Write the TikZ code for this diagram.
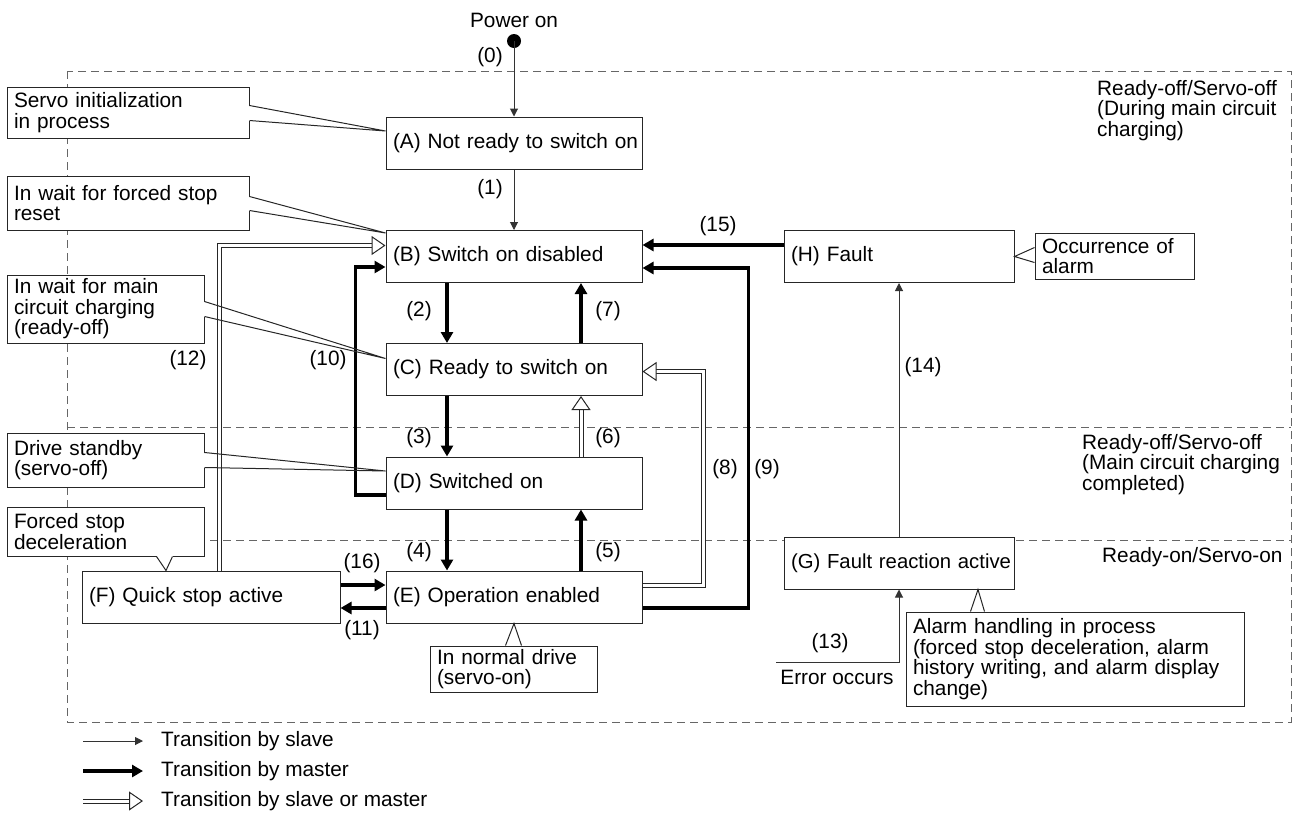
\documentclass[tikz,border=0pt]{standalone}
\usepackage{fontspec}
\setmainfont{Liberation Sans}
\usetikzlibrary{arrows.meta,calc}
\newcommand\wedgeto[3]{%
  \draw[white,line width=1.8pt] #1 -- #2;
  \draw[wedge] #1 -- #3 -- #2;}
\begin{document}
\begin{tikzpicture}[x=1pt,y=-1pt,
  every node/.style={font=\fontsize{20.8}{20.5}\selectfont, inner sep=0pt},
  state/.style={draw=black!85, line width=1pt, fill=white, minimum height=52pt, text width=242pt, inner xsep=7pt, align=left,
    execute at begin node={\hyphenpenalty=10000\exhyphenpenalty=10000\hbadness=10000\hfuzz=20pt}},
  note/.style={draw=black!85, line width=1pt, fill=white, inner xsep=7pt, align=left},
  wedge/.style={draw=black!85, line width=1pt, line join=miter},
  slave/.style={draw=black!80, line width=1pt, -{Triangle[length=8pt,width=8pt]}},
  master/.style={draw=black, line width=3.5pt, -{Triangle[length=11pt,width=12pt]}},
  both/.style={draw=black!85, line width=1pt, double=white, double distance=3pt, -{Triangle[open,length=14pt,width=19pt,fill=white]}},
  region/.style={draw=black!60, line width=1pt, dash pattern=on 8pt off 5pt},
]
\useasboundingbox (0,0) rectangle (1293,812);

% regions
\draw[region] (67,71) rectangle (1291,722);
\draw[region] (67,427) -- (1291,427);
\draw[region] (67,540) -- (1291,540);
\node[anchor=north west, align=left] (r1) at (1097,80) {Ready-off/Servo-off\\(During main circuit\\charging)};
\node[anchor=north west, align=left] (r2) at (1082,434) {Ready-off/Servo-off\\(Main circuit charging\\completed)};
\node[anchor=west] (r3) at (1102,557) {Ready-on/Servo-on};

% states
\node (pwtxt) at (514,20) {Power on};
\node[circle, fill=black, minimum size=14pt] (pw) at (514,41) {};
\node[state] (A) at (514,143) {(A)~Not~ready~to~switch~on};
\node[state] (B) at (514,256.5) {(B)~Switch~on~disabled};
\node[state] (C) at (514,369.5) {(C)~Ready~to~switch~on};
\node[state] (D) at (514,483) {(D)~Switched~on};
\node[state] (E) at (514,597) {(E)~Operation~enabled};
\node[state, text width=244pt] (F) at (211,597) {(F)~Quick~stop~active};
\node[state, text width=216pt] (H) at (899,256.5) {(H)~Fault};
\node[state, text width=216pt, font=\fontsize{20.3}{20.5}\selectfont] (G) at (899,563) {(G)~Fault~reaction~active};

% transitions
\draw[slave] (pw.center) -- (A.north);
\draw[slave] (A.south) -- (B.north);
\draw[master] ([xshift=-67pt]B.south) -- ([xshift=-67pt]C.north);
\draw[master] ([xshift=67pt]C.north) -- ([xshift=67pt]B.south);
\draw[master] ([xshift=-67pt]C.south) -- ([xshift=-67pt]D.north);
\draw[both] ([xshift=67pt]D.north) -- ([xshift=67pt]C.south);
\draw[master] ([xshift=-67pt]D.south) -- ([xshift=-67pt]E.north);
\draw[master] ([xshift=67pt]E.north) -- ([xshift=67pt]D.south);
\draw[both] ([yshift=12pt]E.east) -- ++(61,0) |- ([yshift=-2pt]C.east);
\draw[master] ([yshift=-11pt]E.east) -- ++(106,0) |- ([yshift=-11.5pt]B.east);
\draw[master] ([yshift=-12pt]D.west) -- ++(-30,0) |- ([yshift=-10.5pt]B.west);
\draw[both] ([xshift=8pt]F.north) |- ([yshift=11pt]B.west);
\draw[master] ([yshift=12pt]F.east) -- ([yshift=12pt]E.west);
\draw[master] ([yshift=-11pt]E.west) -- ([yshift=-11pt]F.east);
\draw[master] ([yshift=11.5pt]H.west) -- ([yshift=11.5pt]B.east);
\draw[slave] (G.north) -- (H.south);
\coordinate (err) at (776,662);
\draw[slave] (err) -| (G.south);

% transition labels
\node (n0) at (490,57) {(0)};
\node (n1) at (490,189) {(1)};
\node (n2) at (419,311) {(2)};
\node (n7) at (608,311) {(7)};
\node (n3) at (419,438) {(3)};
\node (n6) at (608,438) {(6)};
\node (n4) at (419,552) {(4)};
\node (n5) at (608,552) {(5)};
\node (n15) at (718,226) {(15)};
\node (n10) at (328,360) {(10)};
\node (n12) at (188,360) {(12)};
\node (n8) at (725,469) {(8)};
\node (n9) at (767,469) {(9)};
\node (n16) at (362,563) {(16)};
\node (n11) at (362,630) {(11)};
\node (n14) at (923,367) {(14)};
\node (n13) at (830,643) {(13)};
\node (errtxt) at (837,677) {Error occurs};

% callouts
\node[note, text width=228pt, minimum height=51pt] (c1) at (128,112.5) {Servo initialization\\in process};
\wedgeto{([yshift=-19pt]c1.north east)}{([yshift=-34pt]c1.north east)}{([yshift=12pt]A.west)}
\node[note, text width=228pt, minimum height=54pt] (c2) at (128,203) {In wait for forced stop\\reset};
\wedgeto{([yshift=-21pt]c2.north east)}{([yshift=-35pt]c2.north east)}{([yshift=-3pt]B.north west)}
\node[note, text width=183pt, minimum height=68pt] (c3) at (105.5,309) {In wait for main\\circuit charging\\(ready-off)};
\wedgeto{([yshift=-27pt]c3.north east)}{([yshift=-42pt]c3.north east)}{([yshift=11pt]C.west)}
\node[note, text width=183pt, minimum height=54pt] (c4) at (105.5,460) {Drive standby\\(servo-off)};
\wedgeto{([yshift=-20pt]c4.north east)}{([yshift=-35pt]c4.north east)}{([yshift=12pt]D.west)}
\node[note, text width=183pt, minimum height=49pt] (c5) at (105.5,531.5) {Forced stop\\deceleration};
\wedgeto{([xshift=150pt]c5.south west)}{([xshift=166pt]c5.south west)}{([xshift=-45pt]F.north)}
\node[note, text width=153pt, minimum height=46pt] (c6) at (513.5,669) {In normal drive\\(servo-on)};
\wedgeto{([xshift=76pt]c6.north west)}{([xshift=92pt]c6.north west)}{(E.south)}
\node[note, text width=145pt, minimum height=46pt] (c7) at (1114.5,256) {Occurrence of\\alarm};
\wedgeto{([yshift=-15pt]c7.north west)}{([yshift=-30pt]c7.north west)}{(H.east)}
\node[note, text width=324pt, minimum height=94pt] (c8) at (1075,659) {Alarm handling in process\\(forced stop deceleration, alarm\\history writing, and alarm display\\change)};
\wedgeto{([xshift=65pt]c8.north west)}{([xshift=79pt]c8.north west)}{([xshift=79pt]G.south)}

% legend
\coordinate (l1a) at (83,741); \coordinate (l1b) at (143,741);
\coordinate (l2a) at (83,771); \coordinate (l2b) at (143,771);
\coordinate (l3a) at (83,801); \coordinate (l3b) at (143,801);
\draw[slave] (l1a) -- (l1b);
\draw[master] (l2a) -- (l2b);
\draw[both] (l3a) -- (l3b);
\node[anchor=west] (t1) at (161,741) {Transition by slave};
\node[anchor=west] (t2) at (161,771) {Transition by master};
\node[anchor=west] (t3) at (161,801) {Transition by slave or master};
\end{tikzpicture}
\end{document}
